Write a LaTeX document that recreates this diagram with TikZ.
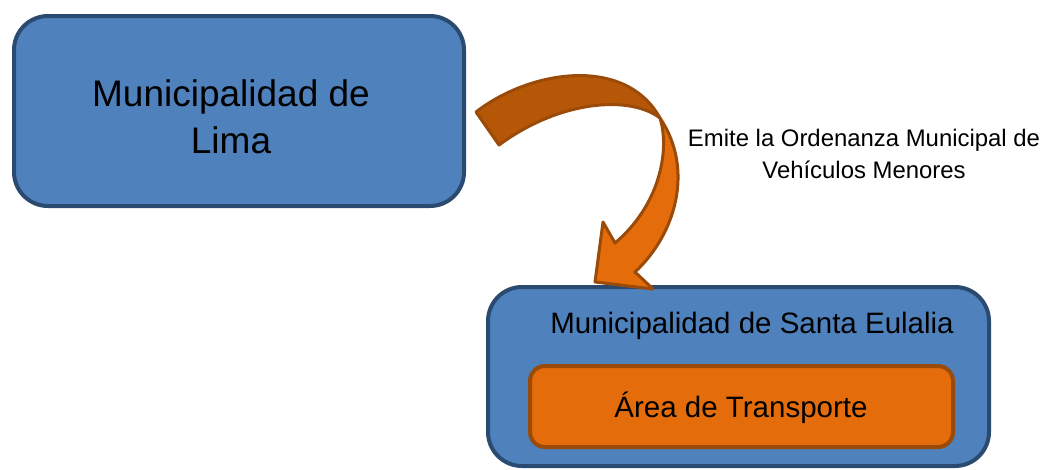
\documentclass[tikz,border=0pt]{standalone}
\usepackage{fontspec}
\setmainfont{Liberation Sans}
\definecolor{boxblue}{HTML}{4F81BD}
\definecolor{boxline}{HTML}{2B4A70}
\definecolor{orfill}{HTML}{E46C0A}
\definecolor{orline}{HTML}{9A4A09}
\definecolor{ordark}{HTML}{B65708}
\tikzset{
  bluebox/.style={draw=boxline, fill=boxblue, line width=4pt, rounded corners=34pt, inner sep=0pt},
  orbox/.style={draw=orline, fill=orfill, line width=4pt, rounded corners=15pt, inner sep=0pt},
  band/.style={draw=orline, line width=3pt, line join=round},
  txt/.style={inner sep=0pt, align=center, text=black}
}
\begin{document}
\begin{tikzpicture}[x=1pt, y=-1pt]
\useasboundingbox (0,0) rectangle (1046,469);
% boxes
\node[bluebox, minimum width=450pt, minimum height=190pt] (lima) at (239,111) {};
\node[txt, font=\fontsize{37}{47}\selectfont] (limatext) at (231,117) {Municipalidad de\\Lima};
\node[bluebox, minimum width=501pt, minimum height=179pt] (santa) at (738.5,376.5) {};
\node[txt, font=\fontsize{29.5}{35}\selectfont, anchor=base] (santatext) at (752,333) {Municipalidad de Santa Eulalia};
\node[orbox, minimum width=423pt, minimum height=81pt] (area) at (741.5,406.5) {};
\node[txt, font=\fontsize{29.5}{35}\selectfont, anchor=base] (areatext) at (741,417) {Área de Transporte};
% curved arrow: back (dark) part
\draw[band, fill=ordark] (476,112) .. controls (530,70) and (625,55) .. (660,118)
  .. controls (630,95) and (560,100) .. (499,145) -- cycle;
% front (light) part with head
\draw[band, fill=orfill] (660,118) .. controls (670,150) and (660,205) .. (615,243)
  -- (603,222) -- (595,282) -- (653,289) -- (635,272)
  .. controls (675,235) and (695,170) .. (660,118) -- cycle;
% label
\node[txt, font=\fontsize{23.9}{32}\selectfont] (label) at (864,154) {Emite la Ordenanza Municipal de\\Vehículos Menores};
\end{tikzpicture}
\end{document}
